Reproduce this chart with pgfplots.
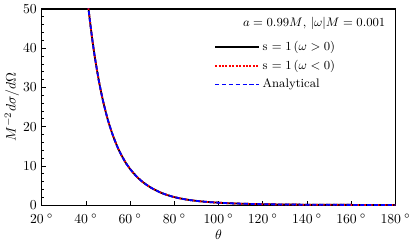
\documentclass[border=0pt]{standalone}
\usepackage{pgfplots}
\pgfplotsset{compat=1.18}
\begin{document}
\begin{tikzpicture}
\begin{axis}[
  scale only axis,
  width=258pt, height=143pt,
  xmin=20, xmax=180, ymin=0, ymax=50,
  axis line style={line width=0.8pt},
  xtick={20,40,...,180},
  xticklabels={$20\:^\circ$,$40\:^\circ$,$60\:^\circ$,$80\:^\circ$,$100\:^\circ$,$120\:^\circ$,$140\:^\circ$,$160\:^\circ$,$180\:^\circ$},
  ytick={0,10,...,50},
  minor ytick={2,4,6,8,12,14,16,18,22,24,26,28,32,34,36,38,42,44,46,48},
  tick pos=left,
  tick align=inside,
  major tick length=3pt,
  minor tick length=1.8pt,
  tick style={black, line width=0.5pt},
  tick label style={font=\normalsize},
  xticklabel style={yshift=-3pt},
  xlabel={$\theta$},
  ylabel={$M^{-2}d\sigma/d\Omega$},
  xlabel style={yshift=2pt},
  ylabel style={yshift=-4pt, font=\normalsize},
  clip=true,
  legend style={draw=none, fill=none, at={(0.487,0.85)}, anchor=north west,
    font=\small, row sep=1.5pt, inner sep=0pt},
  legend cell align=left,
  legend image code/.code={\draw[#1] (0pt,0pt) -- (32pt,0pt);},
]
\pgfplotstableread{
t v
40 56.4
41 51.0
42 46.2
43 41.8
44 37.9
45 34.5
46 31.3
47 28.5
48 25.97
49 23.7
50 21.6
51 19.8
52 18.1
53 16.6
54 15.2
55 13.9
56 12.8
57 11.8
58 10.8
59 9.99
60 9.2
61 8.51
62 7.86
63 7.27
64 6.72
65 6.22
66 5.76
68 4.95
70 4.26
72 3.68
74 3.15
76 2.72
78 2.35
80 2.04
82 1.78
85 1.46
88 1.21
90 1.07
92 0.95
95 0.80
100 0.61
105 0.47
110 0.365
115 0.288
120 0.23
125 0.186
130 0.151
140 0.103
150 0.073
160 0.053
170 0.039
180 0.030
}\datatable
\addplot[black, line width=1.3pt, smooth] table[x=t,y=v] {\datatable};
\addlegendentry{s $= 1\,(\omega>0)$}
\addplot[red, line width=1.3pt, smooth, dash pattern=on 1.5pt off 1pt] table[x=t,y=v] {\datatable};
\addlegendentry{s $= 1\,(\omega<0)$}
\addplot[blue, line width=1.3pt, smooth, dash pattern=on 3pt off 2pt] table[x=t,y=v] {\datatable};
\addlegendentry{Analytical}
\node[anchor=north east, font=\small] at (rel axis cs:0.985,0.985) {$a=0.99M$, $|\omega|M=0.001$};
\end{axis}
\end{tikzpicture}
\end{document}
